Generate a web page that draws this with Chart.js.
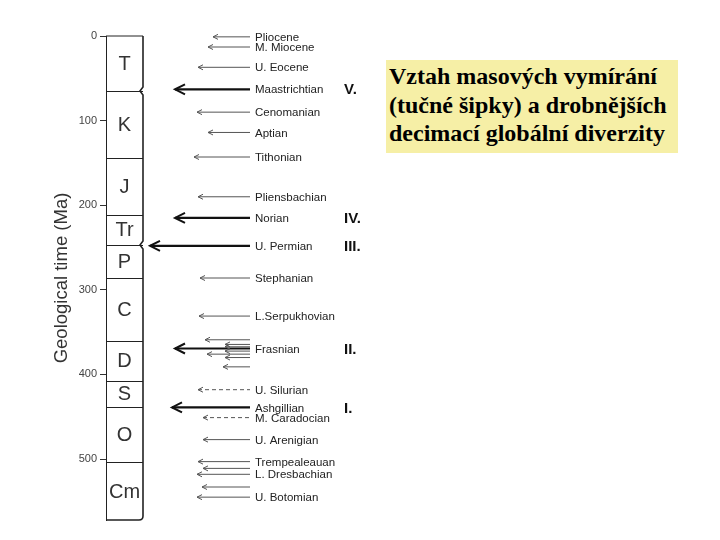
<!DOCTYPE html>
<html>
<head>
<meta charset="utf-8">
<script src="https://cdn.jsdelivr.net/npm/chart.js@4/dist/chart.umd.min.js"></script>
<style>
  body { margin: 0; background: #fff; }
  #wrap { position: relative; width: 720px; height: 540px; }
  #note {
    position: absolute; left: 386px; top: 60px; width: 292px; height: 93px;
    background: #f6efa6; box-sizing: border-box; padding: 2px 0 0 3px;
    font-family: "Liberation Serif", "Times New Roman", serif; font-weight: bold;
    font-size: 24px; line-height: 28.5px; color: #000; white-space: nowrap;
  }
</style>
</head>
<body>
<div id="wrap">
  <canvas id="geoChart"></canvas>
  <div id="note">Vztah masových vymírání<br>(tučné šipky) a drobnějších<br>decimací globální diverzity</div>
</div>
<script>
// geologické periody (spodní hranice v Ma)
const periodNames = ['T', 'K', 'J', 'Tr', 'P', 'C', 'D', 'S', 'O', 'Cm'];
const periodBase = [65, 144, 211, 247, 286, 360, 408, 438, 504, 572];
const notchAt = [65, 247];

// šipky vymírání: stáří (Ma), délka šipky, popisek, styl
const arrowAges = [1, 13, 37, 63, 90, 114, 143, 190, 215, 248, 286, 331,
  359, 364.5, 367.3, 369.3, 372.4, 376, 380, 391,
  418, 439, 451, 477, 503, 511, 518, 533, 545];
const arrowLengths = [37, 42, 52, 75, 53, 42, 56, 52, 75, 100, 50, 51,
  45, 25, 25, 75, 25, 43, 25, 27,
  52, 78, 47, 47, 52, 47, 53, 48, 53];
const arrowLabels = ['Pliocene', 'M. Miocene', 'U. Eocene', 'Maastrichtian', 'Cenomanian', 'Aptian',
  'Tithonian', 'Pliensbachian', 'Norian', 'U. Permian', 'Stephanian', 'L.Serpukhovian',
  '', '', '', 'Frasnian', '', '', '', '',
  'U. Silurian', 'Ashgillian', 'M. Caradocian', 'U. Arenigian', 'Trempealeauan', '',
  'L. Dresbachian', '', 'U. Botomian'];
const arrowStyles = ['thin', 'thin', 'thin', 'bold', 'thin', 'thin', 'thin', 'thin', 'bold', 'bold', 'thin', 'thin',
  'thin', 'thin', 'thin', 'bold', 'thin', 'thin', 'thin', 'thin',
  'dash', 'bold', 'dash', 'thin', 'thin', 'thin', 'thin', 'thin', 'thin'];

// velká vymírání
const massNames = ['V.', 'IV.', 'III.', 'II.', 'I.'];
const massAges = [63, 215, 248, 369.3, 439];

const yTicks = [0, 100, 200, 300, 400, 500];

const SANS = '"Liberation Sans", Arial, Helvetica, sans-serif';

const datasets = arrowAges.map(function(age, i) {
  const st = arrowStyles[i];
  return {
    data: [{ x: -arrowLengths[i], y: age }, { x: 0, y: age }],
    showLine: true,
    borderColor: st === 'bold' ? '#111' : '#555',
    borderWidth: st === 'bold' ? 2.2 : 1,
    borderDash: st === 'dash' ? [4, 3] : [],
    pointRadius: 0
  };
});

const geoPlugin = {
  id: 'geo',
  afterDatasetsDraw(chart) {
    const ctx = chart.ctx;
    const area = chart.chartArea;
    const x = chart.scales.x;
    const y = chart.scales.y;
    const left = area.left;
    const right = left + 37;
    const top = y.getPixelForValue(0);
    const bottom = y.getPixelForValue(periodBase[periodBase.length - 1]);
    ctx.save();

    // sloupec period
    ctx.strokeStyle = '#222';
    ctx.lineWidth = 1;
    ctx.beginPath();
    ctx.moveTo(left, top);
    ctx.lineTo(right, top);
    for (let i = 0; i < periodBase.length - 1; i++) {
      const py = Math.round(y.getPixelForValue(periodBase[i])) + 0.5;
      ctx.moveTo(left, py);
      ctx.lineTo(right, py);
    }
    ctx.stroke();

    ctx.lineWidth = 1.6;
    ctx.beginPath();
    ctx.moveTo(right, top);
    notchAt.forEach(function(a) {
      const py = y.getPixelForValue(a);
      ctx.lineTo(right, py - 4);
      ctx.lineTo(right - 3, py);
      ctx.lineTo(right, py + 4);
    });
    ctx.lineTo(right, bottom - 4);
    ctx.quadraticCurveTo(right, bottom, right - 4, bottom);
    ctx.lineTo(left, bottom);
    ctx.stroke();

    ctx.fillStyle = '#333';
    ctx.font = '20px ' + SANS;
    ctx.textAlign = 'center';
    ctx.textBaseline = 'middle';
    let prev = 0;
    periodNames.forEach(function(name, i) {
      const mid = (y.getPixelForValue(prev) + y.getPixelForValue(periodBase[i])) / 2;
      ctx.fillText(name, (left + right) / 2, mid + 1);
      prev = periodBase[i];
    });

    // hroty šipek
    arrowAges.forEach(function(age, i) {
      const bold = arrowStyles[i] === 'bold';
      const tx = x.getPixelForValue(-arrowLengths[i]);
      const ty = y.getPixelForValue(age);
      const len = bold ? 10 : 5;
      const half = bold ? 5 : 2.5;
      ctx.strokeStyle = bold ? '#111' : '#555';
      ctx.lineWidth = bold ? 2 : 1;
      ctx.setLineDash([]);
      ctx.beginPath();
      ctx.moveTo(tx + len, ty - half);
      ctx.lineTo(tx, ty);
      ctx.lineTo(tx + len, ty + half);
      ctx.stroke();
    });

    // popisky
    ctx.fillStyle = '#222';
    ctx.font = '11.5px ' + SANS;
    ctx.textAlign = 'left';
    arrowLabels.forEach(function(label, i) {
      if (!label) return;
      ctx.fillText(label, x.getPixelForValue(0) + 5, y.getPixelForValue(arrowAges[i]) + 1);
    });

    ctx.fillStyle = '#111';
    ctx.font = 'bold 15px ' + SANS;
    massNames.forEach(function(name, i) {
      ctx.fillText(name, x.getPixelForValue(94), y.getPixelForValue(massAges[i]) + 1);
    });
    ctx.restore();
  }
};

new Chart(document.getElementById('geoChart'), {
  type: 'scatter',
  data: { datasets: datasets },
  options: {
    responsive: true,
    maintainAspectRatio: false,
    animation: false,
    layout: { padding: { left: 47, top: 36, right: 334, bottom: 20 } },
    plugins: { legend: { display: false }, tooltip: { enabled: false } },
    scales: {
      x: { type: 'linear', display: false, min: -144, max: 136 },
      y: {
        type: 'linear',
        reverse: true,
        min: 0,
        max: periodBase[periodBase.length - 1],
        afterFit: function(s) { s.width = 59; },
        afterBuildTicks: function(s) { s.ticks = yTicks.map(function(v) { return { value: v }; }); },
        grid: { drawOnChartArea: false, drawTicks: true, tickLength: 6, color: '#333' },
        border: { display: true, color: '#222', width: 1 },
        ticks: { color: '#444', font: { family: SANS, size: 11 }, padding: 3 },
        title: {
          display: true,
          text: 'Geological time (Ma)',
          color: '#333',
          font: { family: SANS, size: 18.5 },
          padding: { top: 4, bottom: 4 }
        }
      }
    }
  },
  plugins: [geoPlugin]
});
</script>
</body>
</html>
